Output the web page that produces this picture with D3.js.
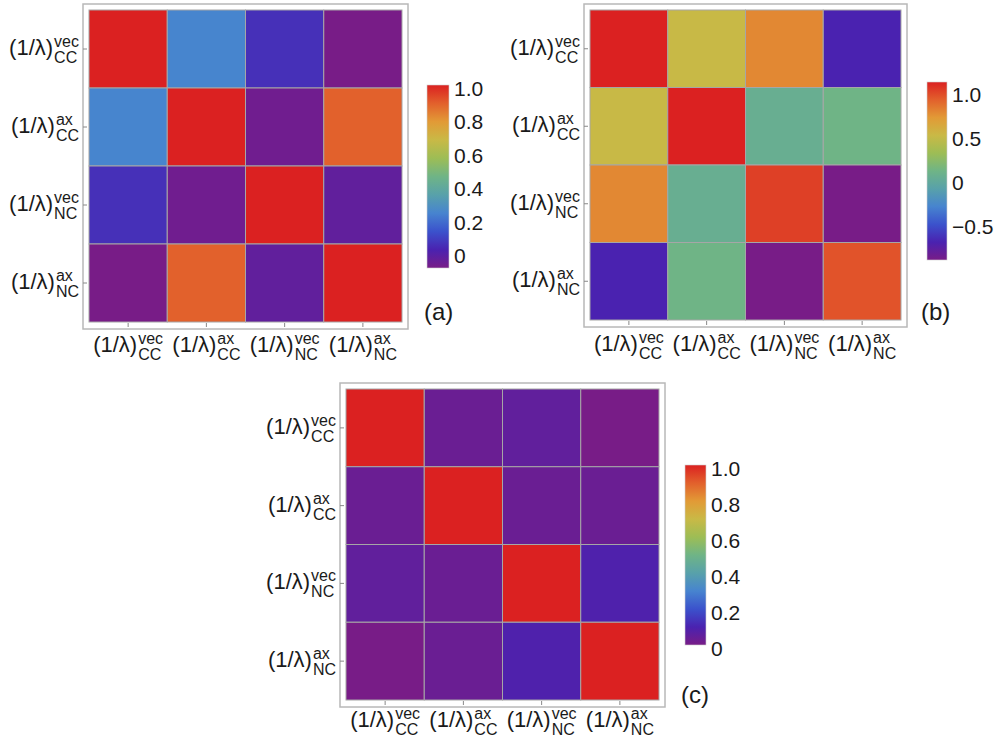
<!DOCTYPE html>
<html>
<head>
<meta charset="utf-8">
<script src="https://cdn.jsdelivr.net/npm/d3@7"></script>
<style>
  body { margin: 0; background: #fff; }
  text { font-family: "Liberation Sans", Arial, sans-serif; fill: #1a1a1a; }
</style>
</head>
<body>
<div id="chart"></div>
<script>
// labels of the four quantities (same order for rows and columns)
var labelSup = ["vec", "ax", "vec", "ax"];
var labelSub = ["CC", "CC", "NC", "NC"];

// panel (a)
var matrixA = [
  [1.00, 0.24, 0.05, -0.09],
  [0.24, 1.00, -0.07, 0.89],
  [0.05, -0.07, 1.00, -0.035],
  [-0.09, 0.89, -0.035, 1.00]
];
var ticksA = [0, 0.2, 0.4, 0.6, 0.8, 1.0];

// panel (b)
var matrixB = [
  [1.11, 0.50, 0.77, -0.71],
  [0.50, 1.11, 0.04, 0.10],
  [0.77, 0.04, 1.01, -0.91],
  [-0.71, 0.10, -0.91, 0.95]
];
var ticksB = [-0.5, 0, 0.5, 1.0];

// panel (c)
var matrixC = [
  [1.00, 0.03, 0.05, 0.00],
  [0.03, 1.00, 0.03, 0.03],
  [0.05, 0.03, 1.00, 0.09],
  [0.00, 0.03, 0.09, 1.00]
];
var ticksC = [0, 0.2, 0.4, 0.6, 0.8, 1.0];

// rainbow palette, low -> high
var rainbow = ["#781c87", "#4a22b0", "#3b52cc", "#4784cf", "#58a1aa", "#6fb486",
               "#9dbd55", "#c9b946", "#e29a36", "#e2602c", "#db2121"];

var svg = d3.select("#chart").append("svg")
    .attr("width", 1002)
    .attr("height", 738);

var defs = svg.append("defs");
var grad = defs.append("linearGradient")
    .attr("id", "rainbowGrad")
    .attr("x1", 0).attr("y1", 1).attr("x2", 0).attr("y2", 0);
grad.selectAll("stop")
    .data(rainbow)
    .enter()
    .append("stop")
    .attr("offset", (d, i) => i / (rainbow.length - 1))
    .attr("stop-color", d => d);

function fmt(v) {
  if (v === 0) return "0";
  return v.toFixed(1).replace("-", "\u2212");
}

// (1/λ) with stacked super/subscript, returns group
function lambdaLabel(g, i) {
  var lab = g.append("g");
  var main = lab.append("text")
      .attr("x", 0).attr("y", 0)
      .style("font-size", "22px")
      .text("(1/\u03bb)");
  var w = main.node().getComputedTextLength();
  lab.append("text")
      .attr("x", w + 1).attr("y", -8)
      .style("font-size", "16px")
      .text(labelSup[i]);
  lab.append("text")
      .attr("x", w + 1).attr("y", 8)
      .style("font-size", "16px")
      .text(labelSub[i]);
  return lab;
}

function drawPanel(matrix, ticks, frame, bar, tag, tagPos, xLabOff) {
  var plot = {x0: frame.x0 + 6, y0: frame.y0 + 6, x1: frame.x1 - 6, y1: frame.y1 - 7};
  var flat = d3.merge(matrix);
  var ext = d3.extent(flat);

  var color = d3.scaleLinear()
      .domain(d3.range(rainbow.length).map(k => ext[0] + (ext[1] - ext[0]) * k / (rainbow.length - 1)))
      .range(rainbow)
      .interpolate(d3.interpolateRgb);

  var x = d3.scaleBand().domain(d3.range(4)).range([plot.x0, plot.x1]);
  var y = d3.scaleBand().domain(d3.range(4)).range([plot.y0, plot.y1]);

  var g = svg.append("g");

  // frame
  g.append("rect")
      .attr("x", frame.x0).attr("y", frame.y0)
      .attr("width", frame.x1 - frame.x0).attr("height", frame.y1 - frame.y0)
      .attr("fill", "none")
      .attr("stroke", "#b8b8b8")
      .attr("stroke-width", 1.5);

  var cells = [];
  matrix.forEach((row, r) => row.forEach((v, c) => cells.push({r: r, c: c, v: v})));

  g.selectAll("rect.cell")
      .data(cells)
      .enter()
      .append("rect")
      .attr("class", "cell")
      .attr("x", d => x(d.c))
      .attr("y", d => y(d.r))
      .attr("width", x.bandwidth())
      .attr("height", y.bandwidth())
      .attr("fill", d => color(d.v))
      .attr("stroke", "#a6a6a6")
      .attr("stroke-width", 1);

  // ticks
  g.selectAll("line.xt")
      .data(d3.range(4))
      .enter()
      .append("line")
      .attr("x1", d => x(d) + x.bandwidth() / 2)
      .attr("x2", d => x(d) + x.bandwidth() / 2)
      .attr("y1", plot.y1 + 1).attr("y2", plot.y1 + 5)
      .attr("stroke", "#888");
  g.selectAll("line.yt")
      .data(d3.range(4))
      .enter()
      .append("line")
      .attr("y1", d => y(d) + y.bandwidth() / 2)
      .attr("y2", d => y(d) + y.bandwidth() / 2)
      .attr("x1", frame.x0).attr("x2", frame.x0 + 4)
      .attr("stroke", "#888");

  // y labels
  d3.range(4).forEach(function(i) {
    var lab = lambdaLabel(g, i);
    var bb = lab.node().getBBox();
    lab.attr("transform", "translate(" + (frame.x0 - 4 - (bb.x + bb.width)) + "," + (y(i) + y.bandwidth() / 2 + 6) + ")");
  });
  // x labels
  d3.range(4).forEach(function(i) {
    var lab = lambdaLabel(g, i);
    var bb = lab.node().getBBox();
    lab.attr("transform", "translate(" + (x(i) + x.bandwidth() / 2 - bb.width / 2) + "," + (frame.y1 + xLabOff) + ")");
  });

  // colorbar
  g.append("rect")
      .attr("x", bar.x0).attr("y", bar.y0)
      .attr("width", bar.x1 - bar.x0).attr("height", bar.y1 - bar.y0)
      .attr("fill", "url(#rainbowGrad)")
      .attr("stroke", "#d0d0d0")
      .attr("stroke-width", 0.6);

  var cb = d3.scaleLinear().domain(ext).range([bar.y1, bar.y0]);
  g.selectAll("text.cbt")
      .data(ticks)
      .enter()
      .append("text")
      .attr("class", "cbt")
      .attr("x", bar.x1 + 5)
      .attr("y", d => cb(d) + 3)
      .attr("dy", "0.36em")
      .style("font-size", "21px")
      .text(fmt);

  g.append("text")
      .attr("x", tagPos[0]).attr("y", tagPos[1])
      .style("font-size", "24px")
      .text(tag);
}

drawPanel(matrixA, ticksA, {x0: 83, y0: 4, x1: 408, y1: 329}, {x0: 427, y0: 85, x1: 449, y1: 268}, "(a)", [424, 320], 23);
drawPanel(matrixB, ticksB, {x0: 584, y0: 4, x1: 907, y1: 327}, {x0: 927, y0: 82, x1: 947, y1: 260}, "(b)", [921, 320], 24);
drawPanel(matrixC, ticksC, {x0: 340, y0: 383, x1: 665, y1: 707}, {x0: 685, y0: 465, x1: 706, y1: 645}, "(c)", [681, 703], 20);
</script>
</body>
</html>
